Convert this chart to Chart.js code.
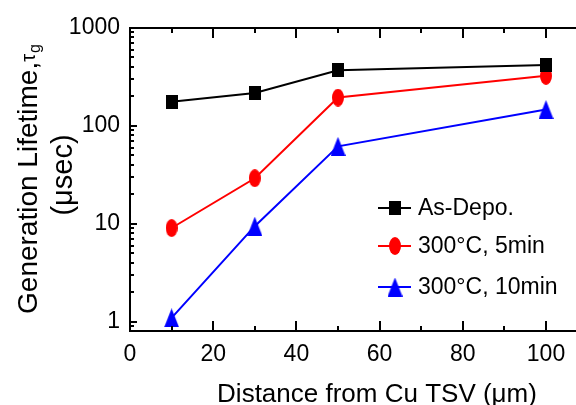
<!DOCTYPE html>
<html>
<head>
<meta charset="utf-8">
<script src="https://cdn.jsdelivr.net/npm/chart.js@4/dist/chart.umd.min.js"></script>
<style>
  html, body { margin: 0; padding: 0; background: #fff; overflow: hidden; width: 576px; height: 405px; }
  canvas { display: block; }
</style>
</head>
<body>
<canvas id="c" width="624" height="405"></canvas>
<script>
// ---- data ----
const distances = [10, 30, 50, 100];
const asDepo = [177, 217, 370, 419];
const anneal5min = [9.1, 29.3, 195, 325];
const anneal10min = [1.1, 9.5, 62, 147];
const seriesLabels = ['As-Depo.', '300\u00B0C, 5min', '300\u00B0C, 10min'];
const xTickValues = [0, 20, 40, 60, 80, 100];
const yTickValues = [1, 10, 100, 1000];

const FONT = '"Liberation Sans", Arial, sans-serif';

function makeMarker(kind, color, w, h) {
  const c = document.createElement('canvas');
  c.width = w; c.height = h;
  const g = c.getContext('2d');
  g.fillStyle = color;
  g.beginPath();
  if (kind === 'square') {
    g.rect(0, 0, w, h);
  } else if (kind === 'ellipse') {
    g.ellipse(w / 2, h / 2, w / 2, h / 2, 0, 0, Math.PI * 2);
  } else {
    g.moveTo(w / 2, 0); g.lineTo(w, h); g.lineTo(0, h); g.closePath();
  }
  g.fill();
  return c;
}
const mSquare = makeMarker('square', '#000000', 12, 14);
const mEllipse = makeMarker('ellipse', '#ff0000', 12, 18);
const mTriangle = makeMarker('triangle', '#0000ff', 15, 19);

function pts(ys) { return distances.map((x, i) => ({ x: x, y: ys[i] })); }

const datasets = [
  { label: seriesLabels[0], data: pts(asDepo), borderColor: '#000000', pointStyle: mSquare },
  { label: seriesLabels[1], data: pts(anneal5min), borderColor: '#ff0000', pointStyle: mEllipse },
  { label: seriesLabels[2], data: pts(anneal10min), borderColor: '#0000ff', pointStyle: mTriangle }
].map(d => Object.assign(d, { borderWidth: 2, tension: 0, fill: false, clip: false, pointRadius: 8 }));

const framePlugin = {
  id: 'frame',
  afterDatasetsDraw(chart) {
    const ctx = chart.ctx, a = chart.chartArea;
    const xs = chart.scales.x, ys = chart.scales.y;
    ctx.save();
    ctx.strokeStyle = '#000'; ctx.lineWidth = 2; ctx.lineCap = 'butt';
    ctx.beginPath();
    ctx.moveTo(a.left, a.top); ctx.lineTo(a.left, a.bottom);
    ctx.moveTo(a.left - 1, a.bottom); ctx.lineTo(a.right, a.bottom);
    ctx.moveTo(a.left - 1, a.top); ctx.lineTo(a.right, a.top);
    // x ticks (bottom & top, inward)
    for (let v = 10; v <= 110; v += 10) {
      const px = Math.round(xs.getPixelForValue(v));
      const len = (v % 20 === 0) ? 10 : 5;
      ctx.moveTo(px, a.bottom); ctx.lineTo(px, a.bottom - len);
      ctx.moveTo(px, a.top); ctx.lineTo(px, a.top + len);
    }
    // y ticks (left, inward)
    for (let d = 0.1; d <= 1000; d *= 10) {
      for (let m = 1; m <= 9; m++) {
        const v = m * d;
        if (v < ys.min || v > ys.max * 1.0001) continue;
        const py = Math.round(ys.getPixelForValue(v));
        const len = (m === 1) ? 7 : 4;
        ctx.moveTo(a.left, py); ctx.lineTo(a.left + len, py);
      }
    }
    ctx.stroke();
    ctx.restore();
  },
  afterDraw(chart) {
    const ctx = chart.ctx;
    ctx.save();
    ctx.fillStyle = '#000';
    // y-axis title (rotated, two lines)
    const cy = 179;
    ctx.textBaseline = 'alphabetic';
    ctx.font = '28px ' + FONT;
    const main = 'Generation Lifetime,';
    const wMain = ctx.measureText(main).width;
    ctx.font = '20px ' + FONT;
    const wTau = ctx.measureText('\u03C4').width;
    ctx.font = '16px ' + FONT;
    const wG = ctx.measureText('g').width;
    const total = wMain + wTau + wG + 1;
    ctx.save();
    ctx.translate(37, cy);
    ctx.rotate(-Math.PI / 2);
    ctx.textAlign = 'left';
    let x0 = -total / 2;
    ctx.font = '28px ' + FONT; ctx.fillText(main, x0, 0);
    ctx.font = '20px ' + FONT; ctx.fillText('\u03C4', x0 + wMain, -2);
    ctx.font = '16px ' + FONT; ctx.fillText('g', x0 + wMain + wTau + 1, 3);
    ctx.restore();
    ctx.save();
    ctx.translate(72, cy - 4);
    ctx.rotate(-Math.PI / 2);
    ctx.textAlign = 'center';
    ctx.font = '29px ' + FONT; ctx.fillText('(\u03BCsec)', 0, 0);
    ctx.restore();

    // legend
    const rows = [208, 246, 287];
    chart.data.datasets.forEach((ds, i) => {
      const y = rows[i];
      ctx.strokeStyle = ds.borderColor; ctx.lineWidth = 2;
      ctx.beginPath(); ctx.moveTo(378, y); ctx.lineTo(411, y); ctx.stroke();
      const img = ds.pointStyle;
      ctx.drawImage(img, 395 - img.width / 2, y - img.height / 2);
      ctx.fillStyle = '#000';
      ctx.font = '23px ' + FONT;
      ctx.textAlign = 'left'; ctx.textBaseline = 'middle';
      ctx.fillText(ds.label, 418, y + 1);
    });
    ctx.restore();
  }
};

new Chart(document.getElementById('c'), {
  type: 'line',
  data: { datasets: datasets },
  options: {
    responsive: false,
    animation: false,
    devicePixelRatio: 1,
    layout: { autoPadding: false, padding: { top: 28, right: 0, left: 0, bottom: 0 } },
    plugins: { legend: { display: false }, tooltip: { enabled: false } },
    scales: {
      x: {
        type: 'linear', min: 0, max: 118.75,
        afterBuildTicks: s => { s.ticks = xTickValues.map(v => ({ value: v })); },
        afterFit: s => { s.height = 74; s.paddingLeft = 0; s.paddingRight = 0; },
        grid: { display: false, drawTicks: false },
        border: { display: false },
        ticks: { color: '#000', font: { family: FONT, size: 23 }, padding: 10, maxRotation: 0, autoSkip: false },
        title: { display: true, text: 'Distance from Cu TSV (\u03BCm)', color: '#000', font: { family: FONT, size: 26 }, padding: { top: 0, bottom: -5 } }
      },
      y: {
        type: 'logarithmic', min: 0.809, max: 1000,
        afterBuildTicks: s => { s.ticks = yTickValues.map(v => ({ value: v })); },
        afterFit: s => { s.width = 130; },
        grid: { display: false, drawTicks: false },
        border: { display: false },
        ticks: { color: '#000', font: { family: FONT, size: 23 }, padding: 10, callback: v => String(v) }
      }
    }
  },
  plugins: [framePlugin]
});
</script>
</body>
</html>
